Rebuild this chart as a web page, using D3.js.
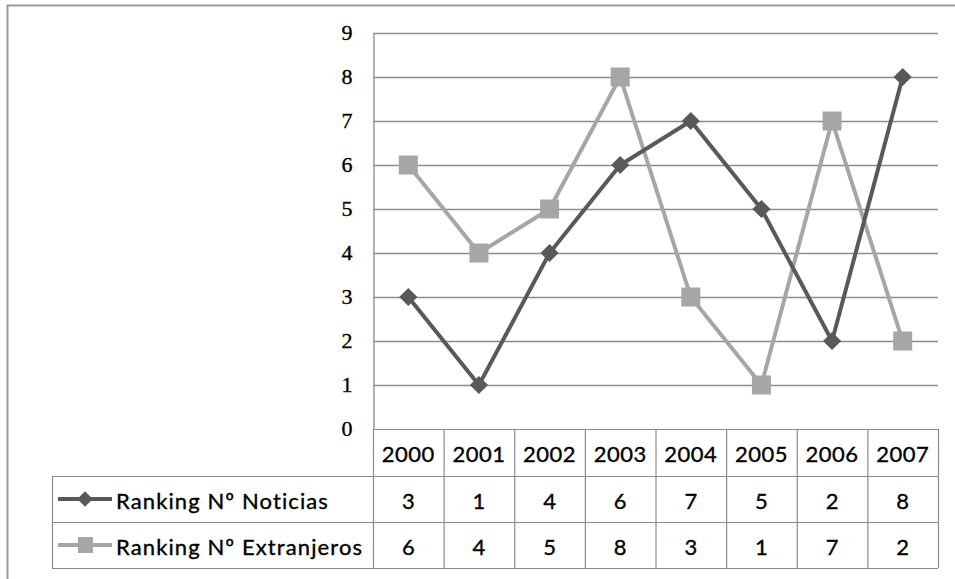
<!DOCTYPE html>
<html><head><meta charset="utf-8">
<script src="https://cdn.jsdelivr.net/npm/d3@7"></script>
<style>body{margin:0;background:#fff;}svg{display:block;}</style>
</head><body>
<svg id="c" width="955" height="579"></svg>
<script>
const years = ["2000","2001","2002","2003","2004","2005","2006","2007"];
const noticias = [3,1,4,6,7,5,2,8];
const extranjeros = [6,4,5,8,3,1,7,2];
const seriesNames = ["Ranking Nº Noticias","Ranking Nº Extranjeros"];
const yTicks = [0,1,2,3,4,5,6,7,8,9];

(function(){
const svg = d3.select("#c");
const font = "Lato, 'Open Sans', sans-serif";
const serif = "'Liberation Serif', 'DejaVu Serif', serif";
const pLeft = 373, pRight = 938, pTop = 33, pBottom = 429;
const legLeft = 52;
const rowB = [429, 476, 522, 568];
const colors = ["#595959", "#a6a6a6"];
const grid = "#8c8c8c";
const heavy = s => s.attr("stroke","#000").attr("stroke-width",0.35);

svg.append("path").attr("d","M7.5,579 V5.5 H955").attr("fill","none").attr("stroke","#9a9a9a").attr("stroke-width",2);

const x = d3.scaleBand().domain(years).range([pLeft, pRight]);
const y = d3.scaleLinear().domain([0,9]).range([pBottom, pTop]);

svg.append("g").selectAll("line").data(yTicks.filter(d=>d>0)).join("line")
  .attr("x1", pLeft).attr("x2", pRight).attr("y1", d=>y(d)+0.5).attr("y2", d=>y(d)+0.5)
  .attr("stroke", grid).attr("stroke-width", 1.3);

const yAxis = svg.append("g").attr("transform",`translate(${pLeft+0.5},0)`)
  .call(d3.axisLeft(y).tickValues(yTicks).tickSize(0).tickPadding(21).tickFormat(d3.format("d")));
yAxis.select(".domain").attr("stroke", grid).attr("stroke-width",1.3);
heavy(yAxis.selectAll("text").attr("font-family", serif).attr("font-size", 22).attr("fill","#000").attr("dy","0.3em"));

const tg = svg.append("g");
const lineAttr = s => s.attr("stroke", grid).attr("stroke-width",1.2);
lineAttr(tg.append("line").attr("x1",pLeft).attr("x2",pRight).attr("y1",rowB[0]+0.5).attr("y2",rowB[0]+0.5));
for (let i=1;i<4;i++) lineAttr(tg.append("line").attr("x1",legLeft).attr("x2",pRight).attr("y1",rowB[i]+0.5).attr("y2",rowB[i]+0.5));
lineAttr(tg.append("line").attr("x1",legLeft+0.5).attr("x2",legLeft+0.5).attr("y1",rowB[1]).attr("y2",rowB[3]));
years.forEach((yr)=>{
  lineAttr(tg.append("line").attr("x1",x(yr)+0.5).attr("x2",x(yr)+0.5).attr("y1",rowB[0]).attr("y2",rowB[3]));
});
lineAttr(tg.append("line").attr("x1",pRight+0.5).attr("x2",pRight+0.5).attr("y1",rowB[0]).attr("y2",rowB[3]));

heavy(tg.selectAll("text.yr").data(years).join("text").attr("class","yr")
  .attr("x", d=>x(d)+x.bandwidth()/2).attr("y", (rowB[0]+rowB[1])/2+1)
  .attr("text-anchor","middle").attr("dominant-baseline","central")
  .attr("font-family",font).attr("font-size",22).attr("letter-spacing",0.5).attr("fill","#000").text(d=>d));
[noticias, extranjeros].forEach((vals, r)=>{
  heavy(tg.selectAll("text.v"+r).data(vals).join("text").attr("class","v"+r)
    .attr("x",(d,i)=>x(years[i])+x.bandwidth()/2).attr("y",(rowB[r+1]+rowB[r+2])/2+1)
    .attr("text-anchor","middle").attr("dominant-baseline","central")
    .attr("font-family",font).attr("font-size",22).attr("fill","#000").text(d=>d));
  const cy = (rowB[r+1]+rowB[r+2])/2;
  tg.append("line").attr("x1",58).attr("x2",112).attr("y1",cy).attr("y2",cy).attr("stroke",colors[r]).attr("stroke-width",4);
  if (r===0) tg.append("path").attr("d",d3.symbol(d3.symbolSquare,120)()).attr("transform",`translate(85,${cy}) rotate(45)`).attr("fill",colors[r]);
  else tg.append("rect").attr("x",78).attr("y",cy-8).attr("width",15).attr("height",16).attr("fill",colors[r]);
  heavy(tg.append("text").attr("x",116).attr("y",cy+1).attr("dominant-baseline","central")
    .attr("font-family",font).attr("font-size",22).attr("letter-spacing",1.1).attr("fill","#000").text(seriesNames[r]));
});

const line = d3.line().x((d,i)=>x(years[i])+x.bandwidth()/2).y(d=>y(d));
[extranjeros, noticias].forEach((vals, k)=>{
  const c = k===0 ? colors[1] : colors[0];
  svg.append("path").datum(vals).attr("d",line).attr("fill","none").attr("stroke",c).attr("stroke-width",4).attr("stroke-linejoin","round");
  const g = svg.append("g");
  vals.forEach((v,i)=>{
    const cx = x(years[i])+x.bandwidth()/2, cy = y(v);
    if (k===0) g.append("rect").attr("x",cx-9.5).attr("y",cy-9.5).attr("width",19).attr("height",19).attr("fill",c);
    else g.append("path").attr("d",d3.symbol(d3.symbolSquare,165)()).attr("transform",`translate(${cx},${cy}) rotate(45)`).attr("fill",c);
  });
});
})();
</script>
</body></html>
